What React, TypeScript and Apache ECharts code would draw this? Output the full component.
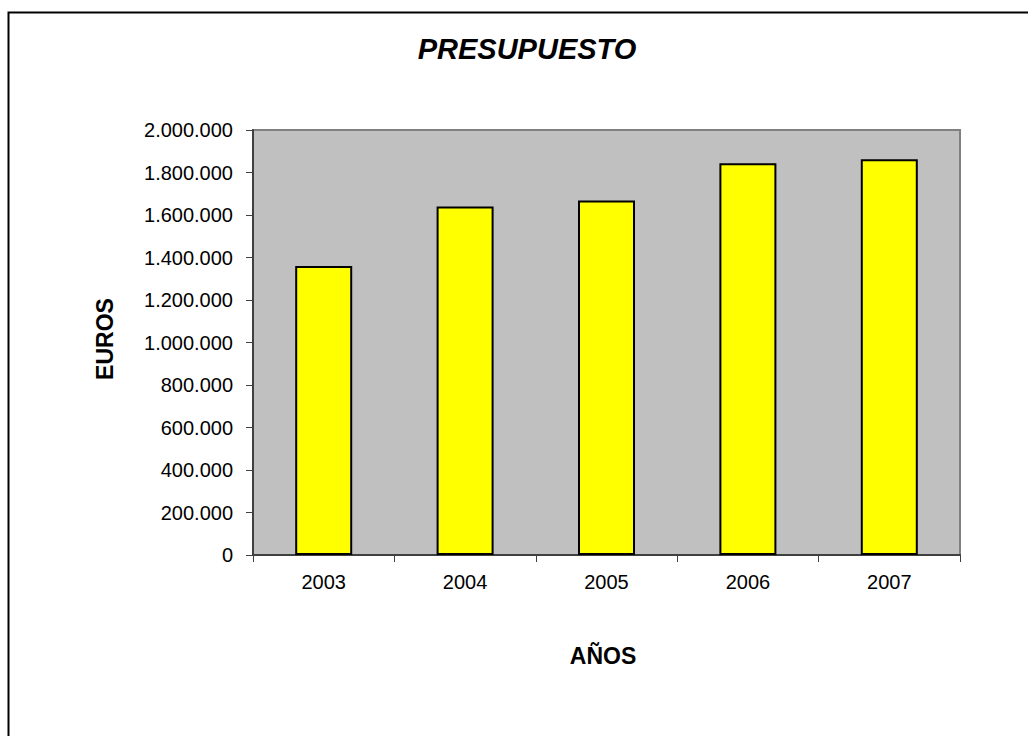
import React, { useEffect, useRef } from "react";
import * as echarts from "echarts";

const years = ["2003", "2004", "2005", "2006", "2007"];
const budget = [1360000, 1640000, 1668000, 1843000, 1862000];
const yMin = 0;
const yMax = 2000000;
const yStep = 200000;

const FONT = "'Liberation Sans', Arial, Helvetica, sans-serif";

function fmt(v: number): string {
  const s = Math.round(v).toString();
  return s.replace(/\B(?=(\d{3})+(?!\d))/g, ".");
}

export default function App() {
  const ref = useRef<HTMLDivElement>(null);
  useEffect(() => {
    if (!ref.current) return;
    const chart = echarts.init(ref.current, null, { renderer: "svg" });
    chart.setOption({
      animation: false,
      backgroundColor: "#ffffff",
      grid: {
        left: 253,
        top: 130,
        right: 68,
        bottom: 181,
        show: true,
        backgroundColor: "#c0c0c0",
        borderColor: "#808080",
        borderWidth: 2,
      },
      xAxis: {
        type: "category",
        data: years,
        boundaryGap: true,
        axisLine: { show: true, lineStyle: { color: "#404040", width: 2 } },
        axisTick: { show: true, inside: false, length: 7, alignWithLabel: false, lineStyle: { color: "#404040", width: 1 } },
        axisLabel: { color: "#000", fontFamily: FONT, fontSize: 20, margin: 17 },
        splitLine: { show: false },
      },
      yAxis: {
        type: "value",
        min: yMin,
        max: yMax,
        interval: yStep,
        axisLine: { show: true, lineStyle: { color: "#404040", width: 2 } },
        axisTick: { show: true, inside: false, length: 7, lineStyle: { color: "#404040", width: 1 } },
        axisLabel: { color: "#000", fontFamily: FONT, fontSize: 20, margin: 20, formatter: (v: number) => fmt(v) },
        splitLine: { show: false },
      },
      series: [
        {
          type: "bar",
          data: budget,
          barWidth: 57,
          itemStyle: { color: "#ffff00", borderColor: "#000000", borderWidth: 2 },
        },
      ],
      graphic: [
        {
          type: "polyline",
          z: 100,
          silent: true,
          shape: { points: [[8.5, 740], [8.5, 12.5], [1030, 12.5]] },
          style: { fill: "none", stroke: "#000", lineWidth: 2 },
        },
        {
          type: "text",
          x: 527,
          y: 49,
          style: {
            text: "PRESUPUESTO",
            font: `italic bold 29px ${FONT}`,
            fill: "#000",
            textAlign: "center",
            textVerticalAlign: "middle",
          },
        },
        {
          type: "text",
          x: 603,
          y: 656,
          style: {
            text: "AÑOS",
            font: `bold 23px ${FONT}`,
            fill: "#000",
            textAlign: "center",
            textVerticalAlign: "middle",
          },
        },
        {
          type: "text",
          x: 105,
          y: 339,
          rotation: Math.PI / 2,
          style: {
            text: "EUROS",
            font: `bold 23px ${FONT}`,
            fill: "#000",
            textAlign: "center",
            textVerticalAlign: "middle",
          },
        },
      ],
    });
    return () => chart.dispose();
  }, []);
  return (
    <div
      ref={ref}
      style={{ position: "absolute", left: 0, top: 0, width: 1028, height: 736 }}
    />
  );
}
